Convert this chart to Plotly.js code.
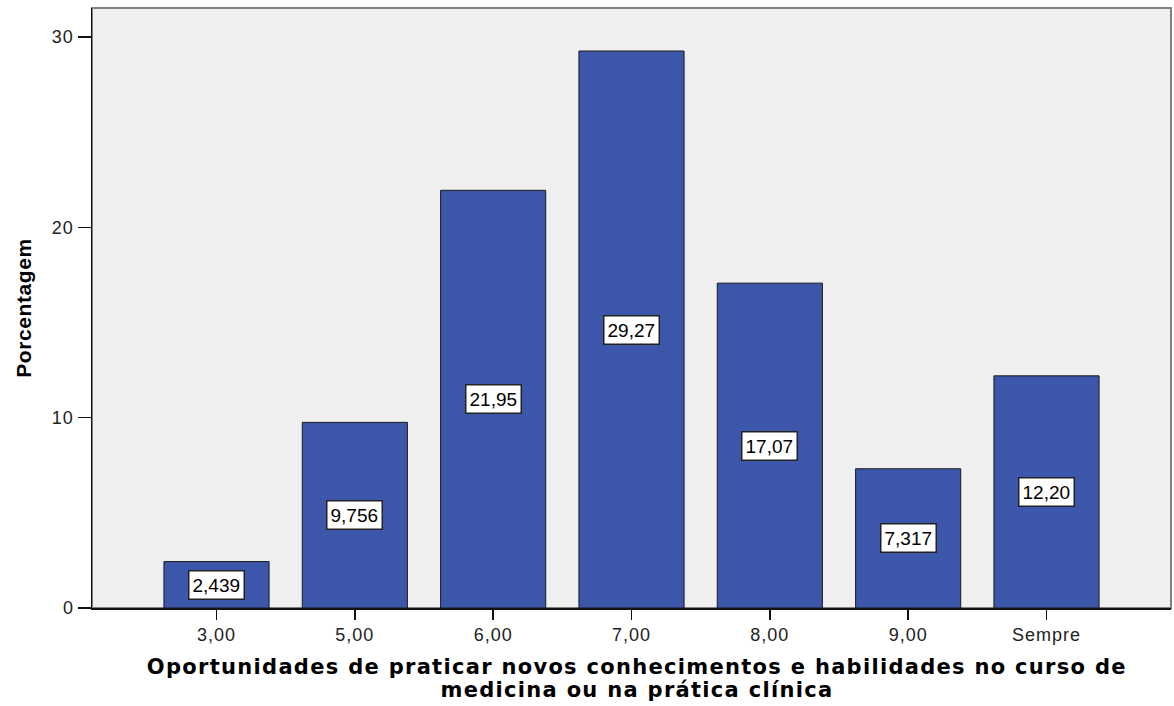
<!DOCTYPE html>
<html>
<head>
<meta charset="utf-8">
<script src="https://cdn.plot.ly/plotly-3.0.1.min.js"></script>
<style>
html,body{margin:0;padding:0;background:#fff;}
#chart{width:1174px;height:706px;}
#chart .xtick text, #chart .ytick text{letter-spacing:1px;}
#chart .annotation[data-index="7"] text, #chart .annotation[data-index="8"] text{letter-spacing:1.3px;}
#chart .g-ytitle text{letter-spacing:0.6px;}
</style>
</head>
<body>
<div id="chart"></div>
<script>
const categories = ["3,00", "5,00", "6,00", "7,00", "8,00", "9,00", "Sempre"];
const percentages = [2.439, 9.756, 21.95, 29.27, 17.07, 7.317, 12.20];
const yTicks = [0, 10, 20, 30];
const xTitleLines = [
  'Oportunidades de praticar novos conhecimentos e habilidades no curso de',
  'medicina ou na prática clínica'
];
const yTitle = 'Porcentagem';

const labelText = percentages.map(v => v.toPrecision(4).replace('.', ','));

const trace = {
  type: 'bar',
  x: categories,
  y: percentages,
  width: 0.76,
  marker: {color: '#3C56A9', line: {color: '#1a1a1a', width: 1}},
  hoverinfo: 'none'
};

const annotations = categories.map((c, i) => ({
  x: c, y: percentages[i] / 2, xref: 'x', yref: 'y',
  text: labelText[i], showarrow: false,
  font: {family: 'Liberation Sans, Arial', size: 19, color: '#000'},
  bgcolor: '#ffffff', bordercolor: '#222', borderwidth: 1.5, borderpad: 3
}));

const titleY = [-0.098, -0.137];
xTitleLines.forEach((t, i) => annotations.push({
  xref: 'paper', yref: 'paper', x: 0.505, y: titleY[i],
  xanchor: 'center', yanchor: 'middle', showarrow: false,
  text: t,
  font: {family: 'DejaVu Sans, Verdana', size: 21, color: '#000', weight: 'bold'}
}));

const layout = {
  width: 1174, height: 706,
  margin: {l: 92, r: 3, t: 8, b: 98},
  paper_bgcolor: '#ffffff',
  plot_bgcolor: '#efefef',
  showlegend: false,
  font: {family: 'Liberation Sans, Arial', size: 18, color: '#222'},
  xaxis: {
    type: 'category',
    range: [-0.9, 6.9],
    showgrid: false, zeroline: false,
    showline: true, linecolor: '#111', linewidth: 1.5,
    ticks: 'outside', ticklen: 10, tickcolor: '#111', tickwidth: 1.5,
    tickfont: {family: 'Liberation Sans, Arial', size: 18, color: '#222'}
  },
  yaxis: {
    range: [0, 31.53],
    tickvals: yTicks,
    showgrid: false, zeroline: false,
    showline: true, linecolor: '#111', linewidth: 1.5,
    ticks: 'outside', ticklen: 13, tickcolor: '#111', tickwidth: 1.5,
    tickfont: {family: 'Liberation Sans, Arial', size: 18, color: '#222'},
    title: {
      text: yTitle,
      font: {family: 'Liberation Sans, Arial', size: 21, color: '#000', weight: 'bold'},
      standoff: 16
    }
  },
  shapes: [{
    type: 'rect', xref: 'paper', yref: 'paper', x0: 0, x1: 1, y0: 0, y1: 1,
    line: {color: '#808080', width: 2}, layer: 'below'
  }],
  annotations: annotations
};

Plotly.newPlot('chart', [trace], layout, {displayModeBar: false, staticPlot: true});
</script>
</body>
</html>
